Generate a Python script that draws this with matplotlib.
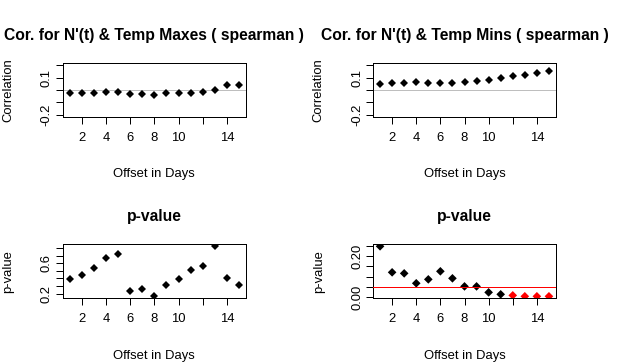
import matplotlib
matplotlib.use("Agg")
import matplotlib.pyplot as plt
import numpy as np

plt.rcParams["font.family"] = ["Liberation Sans", "DejaVu Sans"]

offsets = list(range(1, 16))

cor_max = [-0.027, -0.022, -0.022, -0.014, -0.014, -0.035, -0.035, -0.040,
           -0.027, -0.027, -0.022, -0.014, -0.003, 0.038, 0.038]
cor_min = [0.046, 0.059, 0.059, 0.068, 0.059, 0.059, 0.059, 0.068,
           0.076, 0.084, 0.100, 0.111, 0.124, 0.140, 0.151]
p_max = [0.387, 0.448, 0.540, 0.671, 0.727, 0.230, 0.256, 0.165,
         0.318, 0.387, 0.518, 0.570, 0.824, 0.400, 0.318]
p_min = [0.247, 0.121, 0.116, 0.068, 0.087, 0.126, 0.092, 0.053,
         0.053, 0.024, 0.0145, 0.0095, 0.005, 0.005, 0.005]

titles = ["Cor. for N'(t) & Temp Maxes ( spearman )",
          "Cor. for N'(t) & Temp Mins ( spearman )",
          "p-value", "p-value"]
xticks = [2, 4, 6, 8, 10, 12, 14]
xticklabels = ["2", "4", "6", "8", "10", "", "14"]
cor_ticks = [-0.2, -0.1, 0.0, 0.1, 0.2]
cor_labels = ["-0.2", "", "", "0.1", ""]
pmax_ticks = [0.2, 0.3, 0.4, 0.5, 0.6, 0.7, 0.8]
pmax_labels = ["0.2", "", "", "", "0.6", "", ""]
pmin_ticks = [0.0, 0.05, 0.10, 0.15, 0.20, 0.25]
pmin_labels = ["0.00", "", "", "", "0.20", ""]

W, H = 619, 362
DPI = 100
PX = 72 / DPI  # points per pixel
BASE = 13  # px, R's base font size on this device


def rlim(lo, hi):
    d = (hi - lo) * 0.04
    return lo - d, hi + d


def make_axes(fig, x0, y0, x1, y1):
    # pixel box, y measured from the top
    return fig.add_axes([x0 / W, 1 - y1 / H, (x1 - x0) / W, (y1 - y0) / H])


fig = plt.figure(figsize=(W / DPI, H / DPI), dpi=DPI)

boxes = [(63, 63.3, 245.7, 116.7), (373.3, 63.3, 555.7, 116.7),
         (63, 244.3, 245.7, 298.3), (373.3, 244.3, 555.7, 298.3)]
series = [cor_max, cor_min, p_max, p_min]
ylabels = ["Correlation", "Correlation", "p-value", "p-value"]
yticks = [(cor_ticks, cor_labels), (cor_ticks, cor_labels),
          (pmax_ticks, pmax_labels), (pmin_ticks, pmin_labels)]
ylims = [rlim(-0.2, 0.2), rlim(-0.2, 0.2),
         rlim(min(p_max), max(p_max)), rlim(min(p_min), max(p_min))]

for i, (box, vals) in enumerate(zip(boxes, series)):
    ax = make_axes(fig, *box)
    h_px = box[3] - box[1]
    w_px = box[2] - box[0]
    vals = np.array(vals)

    if i < 2:
        ax.axhline(0, color="#bebebe", lw=1 * PX, antialiased=False, zorder=1)
        ax.plot(offsets, vals, "D", color="black", ms=4.4, mew=0, zorder=2)
    elif i == 2:
        ax.plot(offsets, vals, "D", color="black", ms=4.4, mew=0, zorder=2)
    else:
        cols = np.where(vals < 0.01, "red", "black")
        ax.scatter(offsets, vals, marker="D", c=cols, s=4.4 ** 2, lw=0, zorder=2)
        ax.axhline(0.05, color="red", lw=1 * PX, antialiased=False, zorder=3)

    ax.set_xlim(rlim(1, 15))
    ax.set_ylim(ylims[i])
    ax.set_xticks(xticks)
    ax.set_xticklabels(xticklabels)
    ax.set_yticks(yticks[i][0])
    ax.set_yticklabels(yticks[i][1], rotation=90, va="center")
    ax.tick_params(axis="both", length=7.2 * PX, width=1 * PX, labelsize=BASE * PX,
                   direction="out")
    ax.tick_params(axis="x", pad=8 * PX)
    ax.tick_params(axis="y", pad=3 * PX)
    for s in ax.spines.values():
        s.set_linewidth(1 * PX)

    ax.text(0.5, 1 + 28 / h_px, titles[i], transform=ax.transAxes,
            ha="center", va="center", fontsize=BASE * 1.2 * PX, fontweight="bold")
    ax.text(-54.5 / w_px, 0.5, ylabels[i], transform=ax.transAxes,
            ha="center", va="center", rotation=90, fontsize=BASE * PX)
    ax.text(0.5, -57.3 / h_px, "Offset in Days", transform=ax.transAxes,
            ha="center", va="center", fontsize=BASE * PX)

fig.savefig("out.png", dpi=DPI)
plt.close(fig)
